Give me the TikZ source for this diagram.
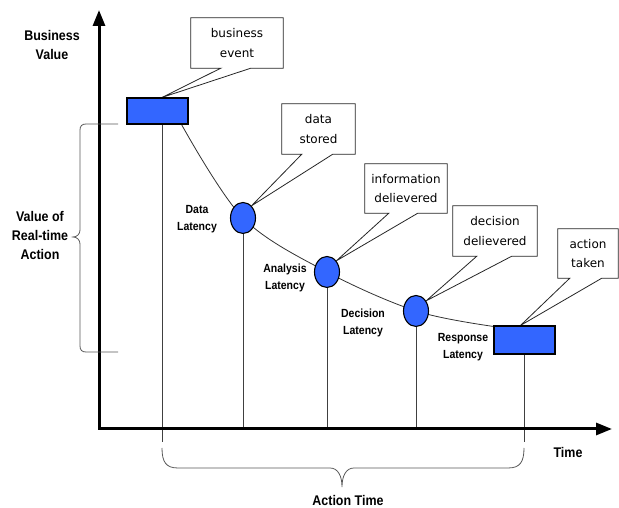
\documentclass[tikz,border=0pt]{standalone}
\usepackage{fontspec}
\setmainfont{Liberation Sans}
\newfontfamily\narrowfont[FakeStretch=0.89]{Liberation Sans}
\newfontfamily\boxfont{DejaVu Sans}
\usetikzlibrary{arrows.meta,shapes.geometric,backgrounds,calc}
\definecolor{evblue}{RGB}{51,102,255}
\tikzset{
  bigl/.style={font=\narrowfont\fontsize{14}{19}\selectfont\bfseries, align=center, inner sep=0pt},
  smalll/.style={font=\narrowfont\fontsize{11.8}{16.5}\selectfont\bfseries, align=center, inner sep=0pt},
  callout/.style={font=\boxfont\fontsize{12}{19.5}\selectfont, align=center, inner sep=0pt},
  callline/.style={draw=black!85, line width=0.8pt, fill=white, line join=miter},
  evrect/.style={rectangle, draw=black, line width=1.1pt, fill=evblue, inner sep=0pt},
  evcirc/.style={ellipse, draw=black, line width=1.1pt, fill=evblue, inner sep=0pt, minimum width=25pt, minimum height=31pt},
  dropline/.style={draw=black!75, line width=0.8pt},
  curveline/.style={draw=black!80, line width=0.8pt},
  braceline/.style={draw=black!65, line width=0.8pt},
  axisline/.style={line width=3pt, line join=miter, {Triangle[length=16pt,width=12pt]}-{Triangle[length=16pt,width=12pt]}}
}
\begin{document}
\begin{tikzpicture}[x=1pt,y=1pt]
\useasboundingbox (0,0) rectangle (619,508);

% axes
\coordinate (O) at (99,79);
\coordinate (ytip) at (99,498);
\coordinate (xtip) at (612,79);
\draw[axisline] (ytip) -- (O) -- (xtip);

% labels
\node[bigl] (bv) at (52,463) {Business\\Value};
\node[bigl] (vr) at (40,272) {Value of\\Real-time\\Action};
\node[bigl] (tm) at (568,55) {Time};
\node[bigl] (acttime) at (348,7) {Action Time};

\node[smalll] (dl) at (197,289) {Data\\Latency};
\node[smalll] (al) at (285,230) {Analysis\\Latency};
\node[smalll] (decl) at (363,185) {Decision\\Latency};
\node[smalll] (rl) at (463,161) {Response\\Latency};

% event shapes
\node[evrect, minimum width=61pt, minimum height=26pt] (r1) at (157.5,397) {};
\node[evcirc] (c1) at (243,290) {};
\node[evcirc] (c2) at (327,236) {};
\node[evcirc] (c3) at (416,197) {};
\node[evrect, minimum width=61pt, minimum height=28pt] (r2) at (524.5,168) {};

% callout texts
\node[callout, minimum width=92pt, minimum height=50pt] (be) at (237,465) {business\\event};
\node[callout, minimum width=73pt, minimum height=50pt] (ds) at (318.5,379) {data\\stored};
\node[callout, minimum width=82pt, minimum height=49pt] (id) at (406,319.5) {information\\delievered};
\node[callout, minimum width=84pt, minimum height=50pt] (dd) at (495,277) {decision\\delievered};
\node[callout, minimum width=60pt, minimum height=49pt] (tk) at (588,254.5) {action\\taken};

% reference coordinates
\coordinate (r1top) at ($(r1.north)+(4.5,0)$);
\coordinate (r1bot) at ($(r1.south)+(4.5,0)$);
\coordinate (r1end) at (162,66);
\coordinate (c1end) at (243,79);
\coordinate (c2end) at (327,79);
\coordinate (c3end) at (416,79);
\coordinate (r2end) at (524.5,66);
\coordinate (cstart) at ($(r1.south east)+(-7,0)$);
\coordinate (cend) at ($(r2.north west)+(0,-1)$);
\coordinate (r2top) at ($(r2.north)+(-4,0)$);

\begin{scope}[on background layer]
  % decay curve
  \draw[curveline] plot[smooth, tension=0.55] coordinates {(cstart) (c1.center) (c2.center) (c3.center) (cend)};
  % drop lines
  \draw[dropline] (r1bot) -- (r1end);
  \draw[dropline] (c1.south) -- (c1end);
  \draw[dropline] (c2.south) -- (c2end);
  \draw[dropline] (c3.south) -- (c3end);
  \draw[dropline] (r2.south) -- (r2end);
  % callout outlines
  \draw[callline] (be.north west) -- (be.north east) -- (be.south east) -- ($(be.south west)+(60,0)$) -- (r1top) -- ($(be.south west)+(30,0)$) -- (be.south west) -- cycle;
  \draw[callline] (ds.north west) -- (ds.north east) -- (ds.south east) -- ($(ds.south west)+(51,0)$) -- (c1.55) -- ($(ds.south west)+(20,0)$) -- (ds.south west) -- cycle;
  \draw[callline] (id.north west) -- (id.north east) -- (id.south east) -- ($(id.south west)+(53,0)$) -- (c2.50) -- ($(id.south west)+(24,0)$) -- (id.south west) -- cycle;
  \draw[callline] (dd.north west) -- (dd.north east) -- (dd.south east) -- ($(dd.south west)+(59,0)$) -- (c3.45) -- ($(dd.south west)+(24,0)$) -- (dd.south west) -- cycle;
  \draw[callline] (tk.north west) -- (tk.north east) -- (tk.south east) -- ($(tk.south west)+(44,0)$) -- (r2top) -- ($(tk.south west)+(12,0)$) -- (tk.south west) -- cycle;
\end{scope}

% left brace (value of real-time action)
\draw[braceline] (118,384) -- (86,384) .. controls (82,384) and (80,382) .. (80,378) -- (80,278)
  .. controls (80,274) and (77,271) .. (73,271) .. controls (77,271) and (80,268) .. (80,264)
  -- (80,162) .. controls (80,158) and (82,156) .. (86,156) -- (118,156);

% bottom brace (action time)
\draw[braceline] (162,60) .. controls (162,46) and (166,40) .. (178,40) -- (330,40)
  .. controls (338,40) and (342,32) .. (342,21) .. controls (342,32) and (346,40) .. (354,40)
  -- (508,40) .. controls (520,40) and (524,46) .. (524,60);
\end{tikzpicture}
\end{document}
